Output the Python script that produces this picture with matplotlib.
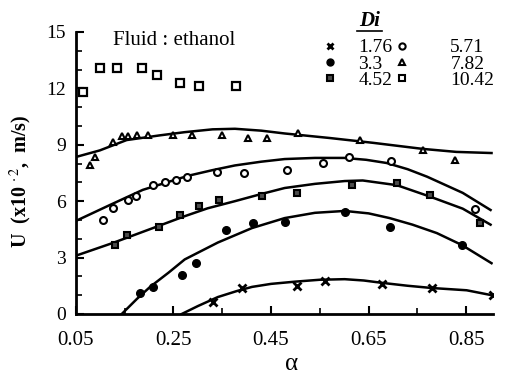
import matplotlib.pyplot as plt
from matplotlib.lines import Line2D

plt.rcParams['font.family'] = ['Liberation Serif', 'DejaVu Serif']
plt.rcParams['mathtext.fontset'] = 'stix'

# measured points, Di = 1.76 ... 10.42
a_176 = [0.331, 0.390, 0.503, 0.560, 0.677, 0.780, 0.904]
u_176 = [0.64, 1.38, 1.49, 1.76, 1.60, 1.38, 1.00]

a_33 = [0.181, 0.208, 0.267, 0.296, 0.357, 0.413, 0.478, 0.601, 0.693, 0.841]
u_33 = [1.12, 1.44, 2.07, 2.71, 4.47, 4.84, 4.89, 5.43, 4.63, 3.67]

a_452 = [0.130, 0.155, 0.220, 0.263, 0.302, 0.343, 0.431, 0.503, 0.616, 0.708, 0.775, 0.878]
u_452 = [3.67, 4.20, 4.63, 5.27, 5.74, 6.06, 6.28, 6.44, 6.86, 6.97, 6.33, 4.84]

a_571 = [0.105, 0.126, 0.157, 0.173, 0.208, 0.232, 0.255, 0.277, 0.339, 0.394, 0.482, 0.556, 0.609, 0.695, 0.868]
u_571 = [5.00, 5.64, 6.06, 6.28, 6.86, 7.02, 7.13, 7.29, 7.55, 7.50, 7.66, 8.03, 8.35, 8.14, 5.59]

a_782 = [0.079, 0.089, 0.126, 0.144, 0.157, 0.175, 0.198, 0.249, 0.288, 0.349, 0.402, 0.441, 0.505, 0.632, 0.761, 0.827]
u_782 = [7.90, 8.35, 9.15, 9.47, 9.47, 9.50, 9.50, 9.50, 9.50, 9.50, 9.36, 9.36, 9.60, 9.26, 8.72, 8.20]

a_1042 = [0.064, 0.099, 0.134, 0.185, 0.216, 0.263, 0.302, 0.378]
u_1042 = [11.8, 13.1, 13.1, 13.1, 12.7, 12.3, 12.1, 12.1]

# fitted curves as drawn in the figure
ca_176 = [0.267, 0.30, 0.341, 0.38, 0.411, 0.45, 0.50, 0.55, 0.601, 0.64, 0.679, 0.73, 0.78, 0.851, 0.902]
cu_176 = [0.0, 0.42, 0.9, 1.22, 1.44, 1.6, 1.72, 1.82, 1.85, 1.78, 1.65, 1.5, 1.38, 1.26, 1.0]

ca_33 = [0.144, 0.175, 0.202, 0.24, 0.273, 0.341, 0.411, 0.478, 0.54, 0.601, 0.65, 0.693, 0.74, 0.79, 0.841, 0.902]
cu_33 = [0.0, 0.8, 1.44, 2.2, 2.9, 3.8, 4.57, 5.1, 5.38, 5.48, 5.35, 5.1, 4.75, 4.3, 3.67, 2.7]

ca_452 = [0.05, 0.126, 0.208, 0.273, 0.32, 0.376, 0.43, 0.478, 0.54, 0.601, 0.638, 0.708, 0.775, 0.843, 0.90]
cu_452 = [3.1, 3.78, 4.57, 5.2, 5.62, 6.0, 6.38, 6.7, 6.92, 7.07, 7.1, 6.85, 6.25, 5.6, 4.75]

ca_571 = [0.05, 0.12, 0.187, 0.28, 0.33, 0.376, 0.43, 0.478, 0.54, 0.60, 0.645, 0.687, 0.73, 0.77, 0.843, 0.90]
cu_571 = [4.95, 5.8, 6.6, 7.35, 7.65, 7.9, 8.1, 8.24, 8.3, 8.3, 8.2, 8.03, 7.7, 7.3, 6.44, 5.53]

ca_782 = [0.05, 0.099, 0.154, 0.222, 0.273, 0.33, 0.376, 0.43, 0.478, 0.57, 0.66, 0.761, 0.83, 0.902]
cu_782 = [8.35, 8.7, 9.25, 9.5, 9.67, 9.82, 9.85, 9.75, 9.6, 9.36, 9.1, 8.78, 8.62, 8.56]

fig = plt.figure(figsize=(5.13, 3.76), dpi=100)
ax = fig.add_axes([0.148, 0.165, 0.813, 0.75])

for ca, cu in [(ca_176, cu_176), (ca_33, cu_33), (ca_452, cu_452),
               (ca_571, cu_571), (ca_782, cu_782)]:
    ax.plot(ca, cu, color='black', lw=1.8, zorder=2)

ax.plot(a_176, u_176, 'x', color='black', ms=6, mew=2, zorder=3)
ax.plot(a_33, u_33, 'o', color='black', ms=5.5, zorder=3)
ax.plot(a_452, u_452, 's', mfc='0.3', mec='black', ms=5, mew=1.5, zorder=3)
ax.plot(a_571, u_571, 'o', mfc='white', mec='black', ms=5, mew=1.5, zorder=3)
ax.plot(a_782, u_782, '^', mfc='white', mec='black', ms=5, mew=1.5, zorder=3)
ax.plot(a_1042, u_1042, 's', mfc='white', mec='black', ms=5.5, mew=1.6, zorder=3)

ax.set_xlim(0.05, 0.905)
ax.set_ylim(0, 15)
ax.set_xticks([0.05, 0.25, 0.45, 0.65, 0.85])
ax.set_xticklabels(['0.05', '0.25', '0.45', '0.65', '0.85'])
ax.set_xticks([0.15, 0.35, 0.55, 0.75], minor=True)
ax.set_yticks([0, 3, 6, 9, 12, 15])
ax.set_yticks(range(16), minor=True)
ax.tick_params(which='major', direction='in', length=6, width=1.5, labelsize=14, pad=7)
ax.tick_params(axis='x', which='major', labelsize=15, pad=12)
ax.tick_params(which='minor', direction='in', length=4, width=1.2)
for s in ['top', 'right']:
    ax.spines[s].set_visible(False)
for s in ['left', 'bottom']:
    ax.spines[s].set_linewidth(2)

ax.set_xlabel('α', fontsize=18)
ax.xaxis.set_label_coords(0.518, -0.14)
ax.set_ylabel('U  (x10 $^{\\cdot\\,2}$,  m/s)', fontsize=14.5, fontweight='bold')
ax.yaxis.set_label_coords(-0.10, 0.47)

fig.text(0.22, 0.893, 'Fluid : ethanol', fontsize=15, va='center')
fig.text(0.72, 0.945, 'Di', fontsize=15, fontweight='bold', style='italic',
         ha='center', va='center')
fig.add_artist(Line2D([0.695, 0.745], [0.918, 0.918], color='black', lw=1.2))

labels1 = ['1.76', '3.3', '4.52']
labels2 = ['5.71', '7.82', '10.42']
h1 = [Line2D([], [], ls='none', marker='x', color='black', ms=5, mew=2),
      Line2D([], [], ls='none', marker='o', color='black', ms=5),
      Line2D([], [], ls='none', marker='s', mfc='0.3', mec='black', ms=5, mew=1.5)]
h2 = [Line2D([], [], ls='none', marker='o', mfc='white', mec='black', ms=4.5, mew=1.5),
      Line2D([], [], ls='none', marker='^', mfc='white', mec='black', ms=4.5, mew=1.5),
      Line2D([], [], ls='none', marker='s', mfc='white', mec='black', ms=5, mew=1.5)]
leg1 = ax.legend(h1, labels1, loc='upper left', bbox_to_anchor=(0.624, 0.897),
                 bbox_transform=fig.transFigure, frameon=False, fontsize=14,
                 handlelength=1.0, handletextpad=0.96, labelspacing=-0.07,
                 borderpad=0, borderaxespad=0)
ax.add_artist(leg1)
ax.legend(h2, labels2, loc='upper left', bbox_to_anchor=(0.764, 0.897),
          bbox_transform=fig.transFigure, frameon=False, fontsize=14,
          handlelength=1.0, handletextpad=2.0, labelspacing=-0.07,
          borderpad=0, borderaxespad=0)

fig.savefig('out.png', dpi=100)
